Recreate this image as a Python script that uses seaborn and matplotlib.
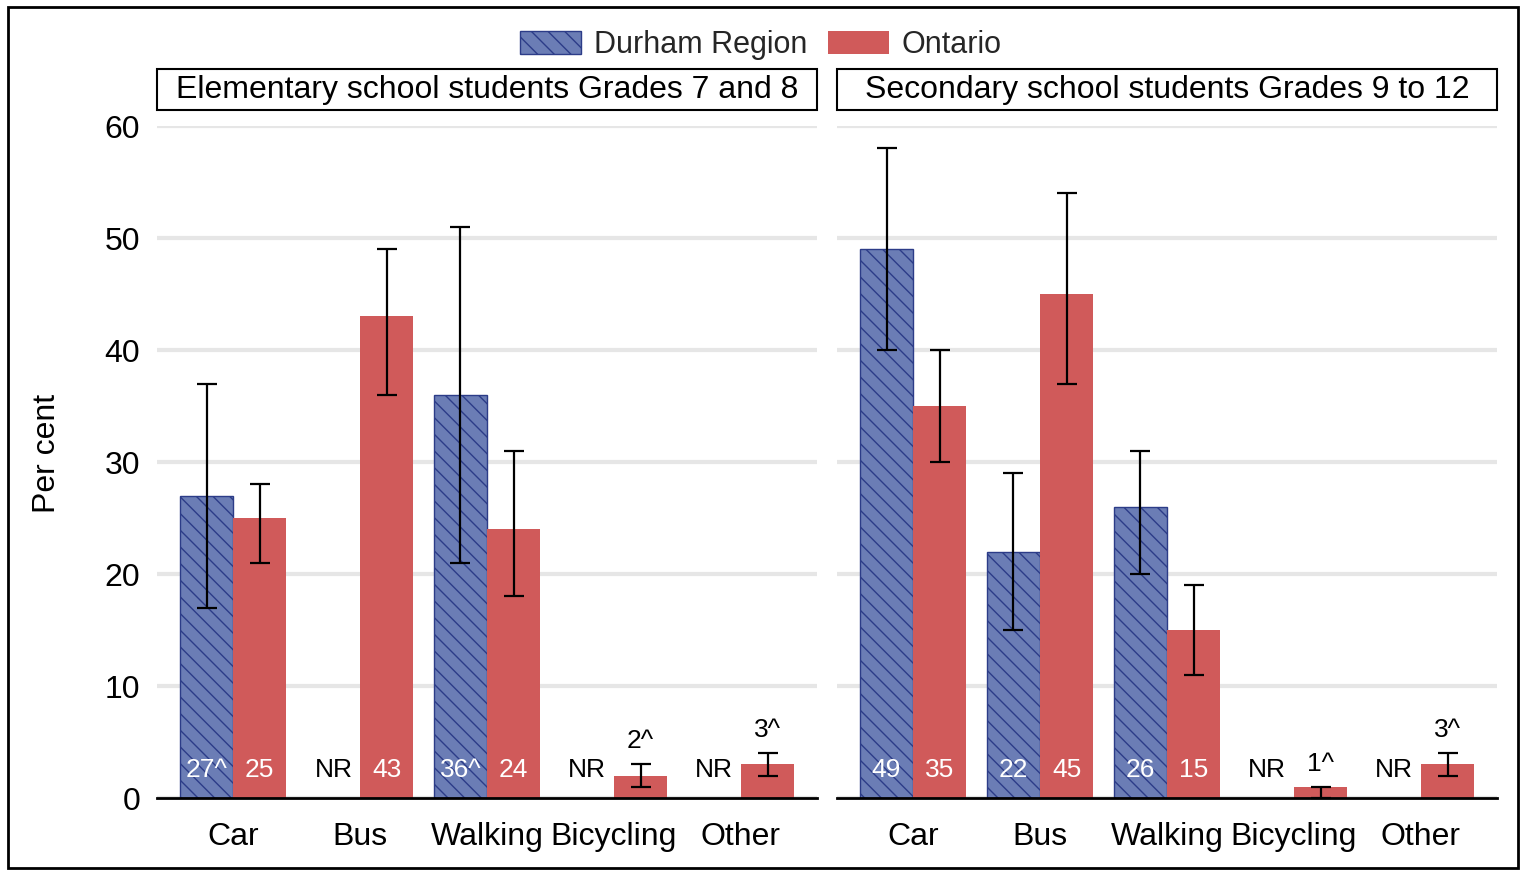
import numpy as np
import pandas as pd
import matplotlib
matplotlib.use("Agg")
import matplotlib.pyplot as plt
from matplotlib.patches import Rectangle, Patch
import seaborn as sns

# ---- data -------------------------------------------------------------
modes = ["Car", "Bus", "Walking", "Bicycling", "Other"]
areas = ["Durham Region", "Ontario"]
panel_titles = ["Elementary school students Grades 7 and 8",
                "Secondary school students Grades 9 to 12"]
nan = np.nan

elem_durham = [27, nan, 36, nan, nan]
elem_durham_lo = [17, nan, 21, nan, nan]
elem_durham_hi = [37, nan, 51, nan, nan]
elem_durham_txt = ["27^", "NR", "36^", "NR", "NR"]

elem_ontario = [25, 43, 24, 2, 3]
elem_ontario_lo = [21, 36, 18, 1, 2]
elem_ontario_hi = [28, 49, 31, 3, 4]
elem_ontario_txt = ["25", "43", "24", "2^", "3^"]

sec_durham = [49, 22, 26, nan, nan]
sec_durham_lo = [40, 15, 20, nan, nan]
sec_durham_hi = [58, 29, 31, nan, nan]
sec_durham_txt = ["49", "22", "26", "NR", "NR"]

sec_ontario = [35, 45, 15, 1, 3]
sec_ontario_lo = [30, 37, 11, 0, 2]
sec_ontario_hi = [40, 54, 19, 1, 4]
sec_ontario_txt = ["35", "45", "15", "1^", "3^"]

y_ticks = [0, 10, 20, 30, 40, 50, 60]

# ---- tidy frame ------------------------------------------------------
rows = []
series = [
    (panel_titles[0], areas[0], elem_durham, elem_durham_lo, elem_durham_hi, elem_durham_txt),
    (panel_titles[0], areas[1], elem_ontario, elem_ontario_lo, elem_ontario_hi, elem_ontario_txt),
    (panel_titles[1], areas[0], sec_durham, sec_durham_lo, sec_durham_hi, sec_durham_txt),
    (panel_titles[1], areas[1], sec_ontario, sec_ontario_lo, sec_ontario_hi, sec_ontario_txt),
]
for panel, area, vals, lo, hi, txt in series:
    for m, v, l, h, t in zip(modes, vals, lo, hi, txt):
        rows.append(dict(panel=panel, area=area, mode=m, pct=v, lo=l, hi=h, label=t))
df = pd.DataFrame(rows)

# ---- style -----------------------------------------------------------
sns.set_theme(style="white")
plt.rcParams["font.family"] = ["Liberation Sans", "DejaVu Sans"]
plt.rcParams["hatch.linewidth"] = 1.0

DURHAM = "#6b7db5"
DURHAM_EDGE = "#2c3c88"
ONTARIO = "#d05a5a"
palette = {areas[0]: DURHAM, areas[1]: ONTARIO}
BAR_W = 0.84
offsets = {areas[0]: -BAR_W / 4, areas[1]: BAR_W / 4}
FS = 23
FS_BAR = 19

W, H = 1522, 871
fig = plt.figure(figsize=(W / 100, H / 100), dpi=100)

ax_left = [157 / W, 837 / W]
ax_w = 660 / W
ax_b = (H - 798) / H
ax_h = 672 / H

for k, panel in enumerate(panel_titles):
    ax = fig.add_axes([ax_left[k], ax_b, ax_w, ax_h])
    sub = df[df.panel == panel]
    sns.barplot(data=sub, x="mode", y="pct", hue="area", order=modes,
                hue_order=areas, palette=palette, width=BAR_W, saturation=1,
                errorbar=None, legend=False, ax=ax, zorder=2)
    for p in ax.patches:
        fc = p.get_facecolor()
        if np.allclose(fc[:3], matplotlib.colors.to_rgb(DURHAM), atol=0.02):
            p.set_hatch("\\\\")
            p.set_edgecolor(DURHAM_EDGE)
            p.set_linewidth(1.0)
        else:
            p.set_edgecolor("none")

    for _, r in sub.iterrows():
        i = modes.index(r["mode"])
        x = i + offsets[r["area"]]
        if np.isnan(r["pct"]):
            ax.text(x, 2.5, r["label"], ha="center", va="center",
                    fontsize=FS_BAR, color="black", zorder=5)
            continue
        ax.errorbar(x, r["pct"], yerr=[[r["pct"] - r["lo"]], [r["hi"] - r["pct"]]],
                    fmt="none", ecolor="black", elinewidth=1.6, capsize=7,
                    capthick=1.6, zorder=4, clip_on=False)
        if r["pct"] < 5:
            ax.text(x, r["hi"] + 1.0, r["label"], ha="center", va="bottom",
                    fontsize=FS_BAR, color="black", zorder=5)
        else:
            ax.text(x, 2.5, r["label"], ha="center", va="center",
                    fontsize=FS_BAR, color="white", zorder=5)

    ax.set_xlim(-0.6, len(modes) - 0.4)
    ax.set_ylim(0, 60)
    ax.set_yticks(y_ticks)
    ax.yaxis.grid(True, color="#e6e6e6", linewidth=3)
    ax.set_axisbelow(True)
    ax.set_xlabel("")
    ax.set_ylabel("")
    for s in ["top", "right", "left"]:
        ax.spines[s].set_visible(False)
    ax.spines["bottom"].set_color("black")
    ax.spines["bottom"].set_linewidth(2)
    ax.spines["bottom"].set_zorder(6)
    ax.tick_params(axis="x", length=0, pad=17, labelsize=FS, colors="black")
    ax.tick_params(axis="y", length=0, pad=12, labelsize=FS, colors="black")
    if k == 1:
        ax.set_yticklabels([])

    # facet title box
    box_b = 1 + 16 / 672
    box_h = 41 / 672
    ax.add_patch(Rectangle((0, box_b), 1, box_h, transform=ax.transAxes,
                           facecolor="white", edgecolor="black", linewidth=1.5,
                           clip_on=False))
    ax.text(0.5, box_b + box_h / 2, panel, transform=ax.transAxes,
            ha="center", va="center", fontsize=FS, color="black")

fig.text(47 / W, 1 - 453 / H, "Per cent", rotation=90, ha="center",
         va="center", fontsize=FS, color="black")

handles = [Patch(facecolor=DURHAM, edgecolor=DURHAM_EDGE, hatch="\\\\", linewidth=1.0),
           Patch(facecolor=ONTARIO, edgecolor="none")]
fig.legend(handles, areas, loc="center", bbox_to_anchor=(0.5, 1 - 45 / H),
           ncol=2, frameon=False, fontsize=22, handlelength=2.0,
           handleheight=0.8, handletextpad=0.4, columnspacing=0.7,
           borderpad=0)

fig.patches.append(Rectangle((7.5 / W, 3 / H), 1510.5 / W, 861 / H,
                             transform=fig.transFigure, fill=False,
                             edgecolor="black", linewidth=2))

fig.savefig("out.png", dpi=100)
